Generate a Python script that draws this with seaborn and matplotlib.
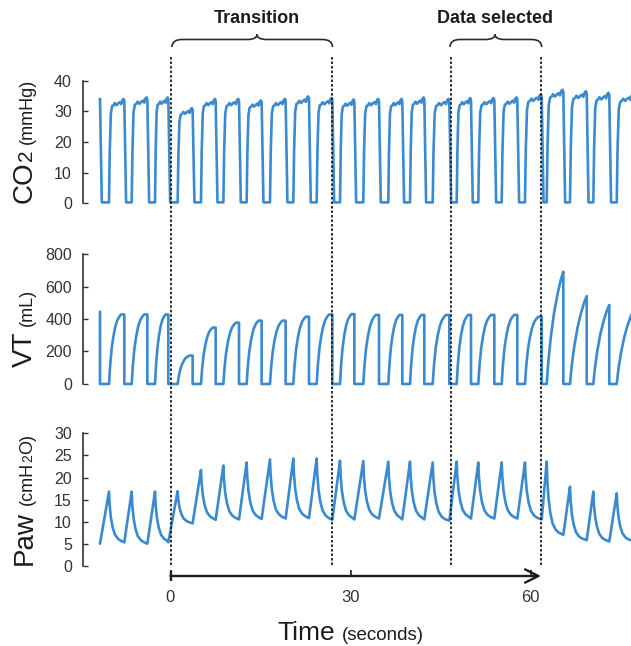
import numpy as np
import pandas as pd
import matplotlib
matplotlib.use("Agg")
import matplotlib.pyplot as plt
import seaborn as sns
from matplotlib.path import Path
from matplotlib.patches import PathPatch
from matplotlib.lines import Line2D
from matplotlib.transforms import blended_transform_factory

# ---------------- data ----------------
# breath-by-breath timing (seconds): start / end of the expiratory phase
exp_start = [-11.78, -10.25, -6.47, -2.58, 1.19, 5.08, 8.81, 12.69, 16.58, 20.47,
             24.36, 28.25, 32.13, 36.30, 39.92, 43.70, 47.70, 51.30, 55.20, 59.08,
             62.70, 66.58, 70.47, 74.37]
exp_end = [-11.75, -7.70, -3.86, -0.36, 3.69, 7.53, 11.42, 15.19, 19.19, 23.08,
           26.97, 30.64, 34.75, 38.63, 42.30, 46.47, 50.08, 53.97, 57.80, 61.87,
           65.47, 69.37, 73.13, 77.20]
# CO2 plateau (mmHg)
co2_plateau = [34.0, 34.0, 34.5, 34.5, 31.0, 34.0, 34.0, 33.5, 34.0, 34.8,
               34.3, 33.8, 34.0, 34.0, 34.5, 34.0, 34.3, 34.3, 34.5, 35.5,
               37.0, 36.5, 36.0, 35.5]
# tidal volume reached at end of each breath (mL)
vt_peak = [445, 428, 428, 428, 175, 347, 377, 390, 390, 414,
           428, 430, 425, 425, 425, 425, 425, 425, 425, 414,
           691, 541, 486, 455]
vt_shape = ["plateau"] * 20 + ["peak"] * 4
# airway pressure: peak at end of inspiration, baseline at end of expiration (cmH2O)
paw_peak = [np.nan, 16.8, 16.8, 16.8, 16.9, 21.7, 22.7, 23.4, 24.1, 24.3,
            24.3, 23.8, 23.7, 23.6, 23.6, 23.4, 23.6, 23.4, 23.4, 23.4,
            23.6, 17.9, 16.8, 16.4]
paw_base = [5.0, 5.3, 5.0, 5.3, 9.6, 10.4, 10.5, 10.6, 10.7, 10.8,
            10.4, 10.5, 10.7, 10.5, 10.5, 10.2, 10.7, 10.7, 10.7, 10.5,
            7.0, 5.8, 5.5, 5.6]

# waveform shape within one breath (fraction of phase -> fraction of amplitude)
co2_tmpl_t = [0.0, 0.05, 0.12, 0.20, 0.30, 0.38, 0.50, 0.62, 0.72, 0.80, 0.88, 0.95, 1.0]
co2_tmpl_f = [0.0, 0.50, 0.86, 0.93, 0.94, 0.96, 0.94, 0.96, 0.97, 0.95, 0.99, 1.00, 0.98]
vt_plateau_t = [0.0, 0.08, 0.18, 0.30, 0.42, 0.55, 0.68, 0.80, 1.0]
vt_plateau_f = [0.0, 0.28, 0.52, 0.70, 0.83, 0.92, 0.97, 1.00, 1.0]
vt_peak_t = [0.0, 0.10, 0.25, 0.45, 0.65, 0.85, 1.0]
vt_peak_f = [0.0, 0.20, 0.42, 0.64, 0.80, 0.93, 1.0]
paw_decay_dt = [0.0, 0.10, 0.30, 0.60, 1.00, 1.50, 2.00]
paw_decay_f = [1.0, 0.75, 0.50, 0.30, 0.15, 0.07, 0.03]

co2_ticks = [0, 10, 20, 30, 40]
vt_ticks = [0, 200, 400, 600, 800]
paw_ticks = [0, 5, 10, 15, 20, 25, 30]
time_ticks = [0, 30, 60]
time_ticklabels = ["0", "30", "60"]
marker_times = [0, 26.9, 46.7, 61.75]
section_titles = ["Transition", "Data selected"]

# ---------------- build waveform vertices ----------------
CO2_FLOOR = 0.3
CO2_FALL = 0.3
n = len(exp_start)

co2_t, co2_y = [], []
for i in range(n):
    ts, te, p = exp_start[i], exp_end[i], co2_plateau[i]
    if i == 0:
        co2_t += [ts, te]
        co2_y += [p, p]
    else:
        d = te - ts
        for ft, fy in zip(co2_tmpl_t, co2_tmpl_f):
            co2_t.append(ts + ft * d)
            co2_y.append(max(fy * p, CO2_FLOOR))
    co2_t.append(te + CO2_FALL)
    co2_y.append(CO2_FLOOR)

vt_t, vt_y = [], []
for i in range(n):
    ts, te, p = exp_start[i], exp_end[i], vt_peak[i]
    if i == 0:
        vt_t += [te]
        vt_y += [p]
    else:
        d = te - ts
        tt, ff = (vt_plateau_t, vt_plateau_f) if vt_shape[i] == "plateau" else (vt_peak_t, vt_peak_f)
        for ft, fy in zip(tt, ff):
            vt_t.append(ts + ft * d)
            vt_y.append(fy * p)
    vt_t.append(te)
    vt_y.append(0.0)

paw_t, paw_y = [exp_end[0]], [paw_base[0]]
for i in range(1, n):
    ts, te, pk, b = exp_start[i], exp_end[i], paw_peak[i], paw_base[i]
    for dt, f in zip(paw_decay_dt, paw_decay_f):
        if dt < te - ts - 0.05:
            paw_t.append(ts + dt)
            paw_y.append(b + f * (pk - b))
    paw_t.append(te)
    paw_y.append(b)

df_co2 = pd.DataFrame({"t": co2_t, "v": co2_y})
df_vt = pd.DataFrame({"t": vt_t, "v": vt_y})
df_paw = pd.DataFrame({"t": paw_t, "v": paw_y})

# ---------------- figure ----------------
sns.set_theme(style="white")
plt.rcParams["font.family"] = ["Liberation Sans", "DejaVu Sans"]

W, H = 631, 646
fig = plt.figure(figsize=(W / 100, H / 100), dpi=100)
fig.patch.set_facecolor("white")

BLUE = "#3a8ad0"
DARK = "#1c1c1c"
TICKC = "#333333"
X0_PX, SEC_PX = 170.5, 6.0
xlim = ((83 - X0_PX) / SEC_PX, (W - X0_PX) / SEC_PX)


def yf(px):
    return (H - px) / H


def make_axes(top_px, bottom_px):
    ax = fig.add_axes([83 / W, yf(bottom_px), (W - 83) / W, (bottom_px - top_px) / H])
    ax.patch.set_alpha(0)
    return ax


ax1 = make_axes(74.4, 212.5)
ax2 = make_axes(245.9, 392.1)
ax3 = make_axes(426.8, 572.3)

specs = [
    (ax1, df_co2, (-3, 42), co2_ticks),
    (ax2, df_vt, (-50, 850), vt_ticks),
    (ax3, df_paw, (-1.5, 31.5), paw_ticks),
]
for ax, df, yl, ticks in specs:
    sns.lineplot(data=df, x="t", y="v", ax=ax, sort=False, estimator=None,
                 color=BLUE, linewidth=1.9)
    ax.set_xlim(*xlim)
    ax.set_ylim(*yl)
    ax.set_xticks([])
    ax.set_yticks(ticks)
    ax.set_yticklabels([str(t) for t in ticks])
    ax.set_xlabel("")
    ax.set_ylabel("")
    for s in ["top", "right", "bottom"]:
        ax.spines[s].set_visible(False)
    ax.spines["left"].set_bounds(ticks[0], ticks[-1])
    ax.spines["left"].set_color(TICKC)
    ax.spines["left"].set_linewidth(1.2)
    ax.tick_params(axis="y", direction="in", length=3.5, width=1.0, color=TICKC,
                   labelsize=11.5, labelcolor=TICKC, pad=8, left=True)

# time axis with arrow
axt = fig.add_axes([83 / W, yf(586), (W - 83) / W, 20 / H])
axt.patch.set_alpha(0)
axt.set_xlim(*xlim)
axt.set_ylim(-1, 1)
axt.set_yticks([])
for s in ["top", "right", "left"]:
    axt.spines[s].set_visible(False)
axt.spines["bottom"].set_position(("data", 0))
axt.spines["bottom"].set_color("none")
axt.set_xticks(time_ticks)
axt.set_xticklabels(time_ticklabels)
axt.tick_params(axis="x", direction="in", length=4, width=1.2, color=DARK,
                labelsize=12, labelcolor=TICKC, pad=10, bottom=True)
axt.annotate("", xy=(marker_times[-1], 0), xytext=(0, 0),
             arrowprops=dict(arrowstyle="->,head_length=0.8,head_width=0.4",
                             lw=1.7, color=DARK, shrinkA=0, shrinkB=0))
axt.plot([0, 0], [-0.5, 0.5], color=DARK, lw=1.7, solid_capstyle="butt")

# dashed markers spanning the three panels
btr = blended_transform_factory(ax1.transData, fig.transFigure)
for xm in marker_times:
    fig.add_artist(Line2D([xm, xm], [yf(57), yf(567)], transform=btr,
                          color=DARK, lw=1.3, linestyle=(0, (1.4, 1.1)), zorder=5))


# curly braces with titles
def brace(x0, xm, x1, title):
    dx = 10 / SEC_PX
    ye, yh, yt = yf(47), yf(39.5), yf(34.5)
    verts = [(x0, ye), (x0, yh), (x0 + dx, yh), (xm - dx, yh), (xm, yh), (xm, yt),
             (xm, yh), (xm + dx, yh), (x1 - dx, yh), (x1, yh), (x1, ye)]
    codes = [Path.MOVETO, Path.CURVE3, Path.CURVE3, Path.LINETO, Path.CURVE3, Path.CURVE3,
             Path.CURVE3, Path.CURVE3, Path.LINETO, Path.CURVE3, Path.CURVE3]
    fig.add_artist(PathPatch(Path(verts, codes), transform=btr, fill=False,
                             edgecolor="#2a2a2a", lw=1.2))
    fig.text(btr.transform((xm, 0))[0] / W, yf(23), title, ha="center", va="baseline",
             fontsize=13, fontweight="bold", color=DARK)


brace((172 - X0_PX) / SEC_PX, (257 - X0_PX) / SEC_PX, (332.5 - X0_PX) / SEC_PX, section_titles[0])
brace((450 - X0_PX) / SEC_PX, (495 - X0_PX) / SEC_PX, (541.7 - X0_PX) / SEC_PX, section_titles[1])

# axis labels with mixed sizes
fig.canvas.draw()
rend = fig.canvas.get_renderer()


def vlabel(parts, x_px, y_bottom_px):
    y = y_bottom_px
    for s, size, gap in parts:
        y -= gap
        t = fig.text(x_px / W, yf(y), s, fontsize=size, rotation=90,
                     rotation_mode="anchor", ha="left", va="baseline", color=DARK)
        bb = t.get_window_extent(rend)
        y = H - bb.y1


def hlabel(parts, x_left_px, y_base_px):
    x = x_left_px
    for s, size, gap in parts:
        x += gap
        t = fig.text(x / W, yf(y_base_px), s, fontsize=size, ha="left",
                     va="baseline", color=DARK)
        bb = t.get_window_extent(rend)
        x = bb.x1


vlabel([("CO", 20, 0), ("2", 15, 0), ("(mmHg)", 13, 6)], 32, 203)
vlabel([("VT", 20, 0), ("(mL)", 13, 6)], 32, 367)
vlabel([("Paw", 20, 0), ("(cmH", 13, 6), ("2", 10, 0), ("O)", 13, 0)], 32, 565)
hlabel([("Time", 19, 0), ("(seconds)", 13.5, 7)], 277, 640)

fig.savefig("out.png", dpi=100)
